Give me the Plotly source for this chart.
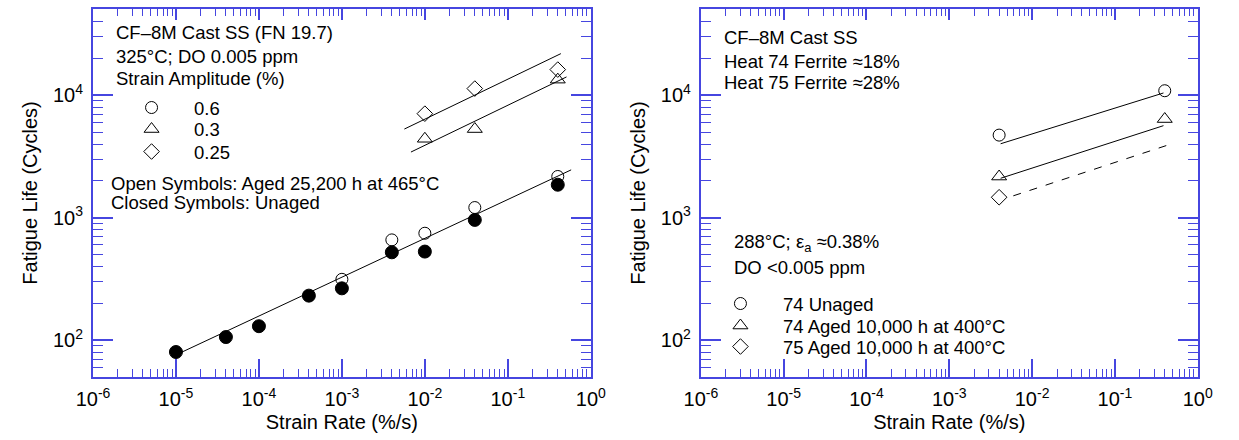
import plotly.graph_objects as go

# ---------------- data: left panel (CF-8M, FN 19.7, 325C) ----------------
unaged_06_rate = [1e-5, 4e-5, 1e-4, 4e-4, 1e-3, 4e-3, 1e-2, 4e-2, 0.4]
unaged_06_life = [80, 106, 130, 231, 265, 522, 529, 960, 1860]
aged_06_rate = [1e-3, 4e-3, 1e-2, 4e-2, 0.4]
aged_06_life = [314, 659, 747, 1211, 2172]
aged_03_rate = [1e-2, 4e-2, 0.4]
aged_03_life = [4415, 5300, 13430]
aged_025_rate = [1e-2, 4e-2, 0.4]
aged_025_life = [7080, 11350, 16220]
fit06_rate = [1.05e-5, 0.58]
fit06_life = [77, 2460]
fit03_rate = [6.8e-3, 0.51]
fit03_life = [3440, 14130]
fit025_rate = [5.66e-3, 0.436]
fit025_life = [5300, 21900]

# ---------------- data: right panel (288C, 0.38%) ----------------
h74u_rate = [4e-3, 0.4]
h74u_life = [4730, 10900]
h74a_rate = [4e-3, 0.4]
h74a_life = [2170, 6400]
h75a_rate = [4e-3]
h75a_life = [1470]
fit74u_rate = [4.17e-3, 0.386]
fit74u_life = [4020, 10450]
fit74a_rate = [4.17e-3, 0.386]
fit74a_life = [2100, 5650]
fit75a_rate = [5.93e-3, 0.425]
fit75a_life = [1510, 3900]

x_tickvals = [1e-6, 1e-5, 1e-4, 1e-3, 1e-2, 1e-1, 1e0]
x_ticktext = ["10<sup>-6</sup>", "10<sup>-5</sup>", "10<sup>-4</sup>", "10<sup>-3</sup>",
              "10<sup>-2</sup>", "10<sup>-1</sup>", "10<sup>0</sup>"]
y_tickvals = [1e2, 1e3, 1e4]
y_ticktext = ["10<sup>2</sup>", "10<sup>3</sup>", "10<sup>4</sup>"]

FONT = "Liberation Sans, Arial, Helvetica, sans-serif"
AXC = "#4646e0"
W, H = 1239, 440
TXT = 18.5

fig = go.Figure()

def mk(x, y, symbol, size, xa, ya, name=None, legend=None):
    fig.add_trace(go.Scatter(
        x=x, y=y, mode="markers", xaxis=xa, yaxis=ya,
        marker=dict(symbol=symbol, size=size, color="black",
                    line=dict(color="black", width=1)),
        name=name or "", showlegend=name is not None,
        legend=legend or "legend"))

def ln(x, y, xa, ya, dash="solid"):
    fig.add_trace(go.Scatter(
        x=x, y=y, mode="lines", xaxis=xa, yaxis=ya,
        line=dict(color="black", width=1, dash=dash), showlegend=False,
        hoverinfo="skip"))

# left panel (fit lines on the overlaid top axis, same scale)
ln(fit06_rate, fit06_life, "x3", "y")
ln(fit03_rate, fit03_life, "x3", "y")
ln(fit025_rate, fit025_life, "x3", "y")
mk(unaged_06_rate, unaged_06_life, "circle", 13, "x", "y")
mk(aged_06_rate, aged_06_life, "circle-open", 12, "x", "y", name="0.6", legend="legend")
mk(aged_03_rate, aged_03_life, "triangle-up-open", 13, "x", "y", name="0.3", legend="legend2")
mk(aged_025_rate, aged_025_life, "diamond-open", 12, "x", "y", name="0.25", legend="legend3")

# right panel
ln(fit74u_rate, fit74u_life, "x4", "y2")
ln(fit74a_rate, fit74a_life, "x4", "y2")
ln(fit75a_rate, fit75a_life, "x4", "y2", dash="8px,9px")
mk(h74u_rate, h74u_life, "circle-open", 12, "x2", "y2", name="74 Unaged", legend="legend4")
mk(h74a_rate, h74a_life, "triangle-up-open", 13, "x2", "y2", name="74 Aged 10,000 h at 400°C", legend="legend5")
mk(h75a_rate, h75a_life, "diamond-open", 12, "x2", "y2", name="75 Aged 10,000 h at 400°C", legend="legend6")

ydom = [(H - 377) / H, (H - 9) / H]
xdom1 = [78 / W, 589 / W]
xdom2 = [702 / W, 1212 / W]

def xax(dom, anchor):
    return dict(domain=dom, anchor=anchor, type="log", range=[-6, 0],
                tickmode="array", tickvals=x_tickvals, ticktext=x_ticktext,
                ticks="inside", ticklen=18, tickwidth=1.6, tickcolor=AXC,
                showline=True, linecolor=AXC, linewidth=2, mirror=False,
                showgrid=False, zeroline=False,
                tickfont=dict(family=FONT, size=20, color="black"),
                ticklabelstandoff=3,
                minor=dict(ticks="inside", ticklen=8, tickwidth=1.2, tickcolor=AXC,
                           dtick="D1", showgrid=False),
                title=dict(text="Strain Rate (%/s)", standoff=6,
                           font=dict(family=FONT, size=20, color="black")))

def xtop(overlay, anchor):
    return dict(overlaying=overlay, anchor=anchor, side="top", type="log", range=[-6, 0],
                tickmode="array", tickvals=x_tickvals,
                ticks="inside", ticklen=11, tickwidth=1.6, tickcolor=AXC,
                showline=True, linecolor=AXC, linewidth=2, showticklabels=False,
                showgrid=False, zeroline=False,
                minor=dict(ticks="inside", ticklen=7, tickwidth=1.2, tickcolor=AXC,
                           dtick="D1", showgrid=False))

def yax(anchor):
    return dict(domain=ydom, anchor=anchor, type="log", range=[1.699, 4.705],
                tickmode="array", tickvals=y_tickvals, ticktext=y_ticktext,
                ticks="inside", ticklen=20, tickwidth=1.6, tickcolor=AXC,
                showline=True, linecolor=AXC, linewidth=2, mirror="ticks",
                showgrid=False, zeroline=False,
                tickfont=dict(family=FONT, size=20, color="black"),
                ticklabelstandoff=4,
                minor=dict(ticks="inside", ticklen=10, tickwidth=1.2, tickcolor=AXC,
                           dtick="D1", showgrid=False),
                title=dict(text="Fatigue Life (Cycles)", standoff=10,
                           font=dict(family=FONT, size=20, color="black")))

def leg(xpx, ypx):
    return dict(bgcolor="rgba(0,0,0,0)", borderwidth=0,
                font=dict(family=FONT, size=TXT, color="black"),
                itemwidth=75, xanchor="left", yanchor="middle",
                x=(xpx - 42.5) / W, y=(H - ypx) / H,
                itemclick=False, itemdoubleclick=False)

fig.update_layout(
    width=W, height=H, margin=dict(l=0, r=0, t=0, b=0),
    paper_bgcolor="white", plot_bgcolor="white",
    font=dict(family=FONT, size=TXT, color="black"),
    xaxis=xax(xdom1, "y"), yaxis=yax("x"),
    xaxis2=xax(xdom2, "y2"), yaxis2=yax("x2"),
    xaxis3=xtop("x", "y"), xaxis4=xtop("x2", "y2"),
    legend=leg(137, 108), legend2=leg(137, 129.5), legend3=leg(137, 152),
    legend4=leg(741.5, 304), legend5=leg(741.5, 326), legend6=leg(741.5, 347),
)

def ann(text, xpx, ypx):
    fig.add_annotation(text=text, x=xpx / W, y=(H - ypx) / H, xref="paper", yref="paper",
                       xanchor="left", yanchor="middle", showarrow=False,
                       font=dict(family=FONT, size=TXT, color="black"))

ann("CF–8M Cast SS (FN 19.7)", 99.5, 32)
ann("325°C; DO 0.005 ppm", 99.5, 57)
ann("Strain Amplitude (%)", 99.5, 78.5)
ann("Open Symbols: Aged 25,200 h at 465°C", 94, 183)
ann("Closed Symbols: Unaged", 94, 203)

ann("CF–8M Cast SS", 723.5, 37)
ann("Heat 74 Ferrite ≈18%", 723.5, 62)
ann("Heat 75 Ferrite ≈28%", 723.5, 82)
ann("288°C; ε<sub>a</sub> ≈0.38%", 734, 243)
ann("DO <0.005 ppm", 734, 267)

fig.write_html("out.html")
